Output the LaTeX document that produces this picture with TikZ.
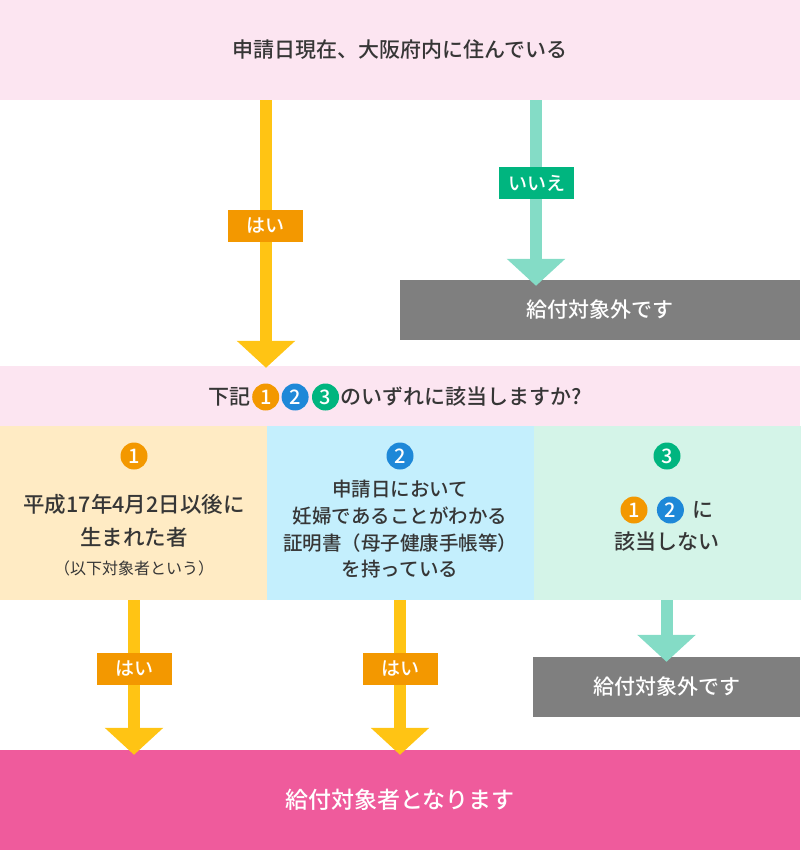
\documentclass[tikz,border=0pt]{standalone}
\usepackage{fontspec}
\setmainfont{Noto Sans CJK JP}[BoldFont={Noto Sans CJK JP Medium}]
\usetikzlibrary{arrows.meta,positioning}

\definecolor{bandpink}{HTML}{FCE5F1}
\definecolor{goalpink}{HTML}{EF5B9C}
\definecolor{yesyellow}{HTML}{FFC414}
\definecolor{yesorange}{HTML}{F39800}
\definecolor{noteal}{HTML}{84DCC6}
\definecolor{nogreen}{HTML}{00B57F}
\definecolor{outgray}{HTML}{7F7F7F}
\definecolor{cream}{HTML}{FFEBC4}
\definecolor{skyblue}{HTML}{C4EFFD}
\definecolor{mint}{HTML}{D4F4E8}
\definecolor{badgeblue}{HTML}{1E88D8}
\definecolor{ink}{HTML}{363636}

\begin{document}
\begin{tikzpicture}[x=1pt,y=-1pt]
\tikzset{
  band/.style={fill=#1, inner sep=0pt, minimum width=800pt},
  panel/.style={fill=#1, inner sep=0pt, minimum width=267pt, minimum height=174pt},
  txt/.style={text=ink, font=\bfseries\fontsize{#1}{#1}\selectfont, inner sep=0pt},
  txt/.default=21,
  outbox/.style={fill=outgray, text=white, font=\bfseries\fontsize{21}{25}\selectfont, inner sep=0pt, minimum height=60pt},
  tag/.style={fill=#1, text=white, font=\bfseries\fontsize{19}{22}\selectfont, inner sep=0pt, minimum width=75pt, minimum height=32pt},
  badge/.style={circle, fill=#1, text=white, font=\bfseries\fontsize{20}{22}\selectfont, inner sep=0pt, minimum size=27pt},
  yesarrow/.style={yesyellow, line width=12pt, -{Triangle[width=57pt,length=27pt]}},
  noarrow/.style={noteal, line width=12pt, -{Triangle[width=57pt,length=27pt]}}
}
\useasboundingbox (0,0) rectangle (800,850);

% Nodes for bands
\node[band=bandpink, minimum height=100pt, txt=21] at (400,50) (top) {申請日現在、大阪府内に住んでいる};
\node[band=bandpink, minimum height=60pt] at (400,396) (ask) {};
\node[band=goalpink, minimum height=100pt, txt=23, text=white] at (400,800) (goal) {給付対象者となります};

% Question line
\node[txt=21, anchor=east] at (251,397) (askA) {下記};
\node[badge=yesorange, right=1pt of askA] (askB1) {1};
\node[badge=badgeblue, right=2pt of askB1] (askB2) {2};
\node[badge=nogreen, right=3pt of askB2] (askB3) {3};
\node[txt=21, right=1pt of askB3] (askC) {のいずれに該当しますか?};

% Nodes for conditions
\node[panel=cream] at (133.5,513) (c1) {};
\node[panel=skyblue] at (400.5,513) (c2) {};
\node[panel=mint] at (667,513) (c3) {};

\node[badge=yesorange] at (134,456) (c1n) {1};
\node[txt=21.5] at (134,504) (c1a) {平成17年4月2日以後に};
\node[txt=21.5] at (134,537) (c1b) {生まれた者};
\node[txt=16, font=\mdseries\fontsize{16}{16}\selectfont] at (134,568) (c1c) {（以下対象者という）};

\node[badge=badgeblue] at (400,456) (c2n) {2};
\node[txt=19.5] at (400,489) (c2a) {申請日において};
\node[txt=19.5] at (400,516) (c2b) {妊婦であることがわかる};
\node[txt=19.5] at (400,543) (c2c) {証明書（母子健康手帳等）};
\node[txt=19.5] at (400,569) (c2d) {を持っている};

\node[badge=nogreen] at (667,456) (c3n) {3};
\node[badge=yesorange] at (634,510) (c3b1) {1};
\node[badge=badgeblue, right=9pt of c3b1] (c3b2) {2};
\node[txt=21, right=8pt of c3b2] (c3t) {に};
\node[txt=21] at (667,542) (c3c) {該当しない};

% Nodes for outputs
\node[outbox, minimum width=400pt] at (600,310) (out1) {給付対象外です};
\node[outbox, minimum width=267pt] at (666.5,687) (out2) {給付対象外です};

% Arrows
\coordinate (yesx) at (266,0);
\coordinate (nox) at (536,0);
\draw[yesarrow, shorten >=-2pt] (top.south -| yesx) -- (ask.north -| yesx);
\draw[noarrow, shorten >=-6pt] (top.south -| nox) -- (out1.north -| nox);
\draw[yesarrow, shorten >=-5pt] (c1.south -| c1n) -- (goal.north -| c1n);
\draw[yesarrow, shorten >=-5pt] (c2.south -| c2n) -- (goal.north -| c2n);
\draw[noarrow, shorten >=-5pt] (c3.south -| out2) -- (out2.north);

% Labels on arrows
\node[tag=yesorange] at (265.5,226) (yes1) {はい};
\node[tag=nogreen] at (536.5,183) (no1) {いいえ};
\node[tag=yesorange] at (134,669) (yes2) {はい};
\node[tag=yesorange] at (400,669) (yes3) {はい};
\end{tikzpicture}
\end{document}
